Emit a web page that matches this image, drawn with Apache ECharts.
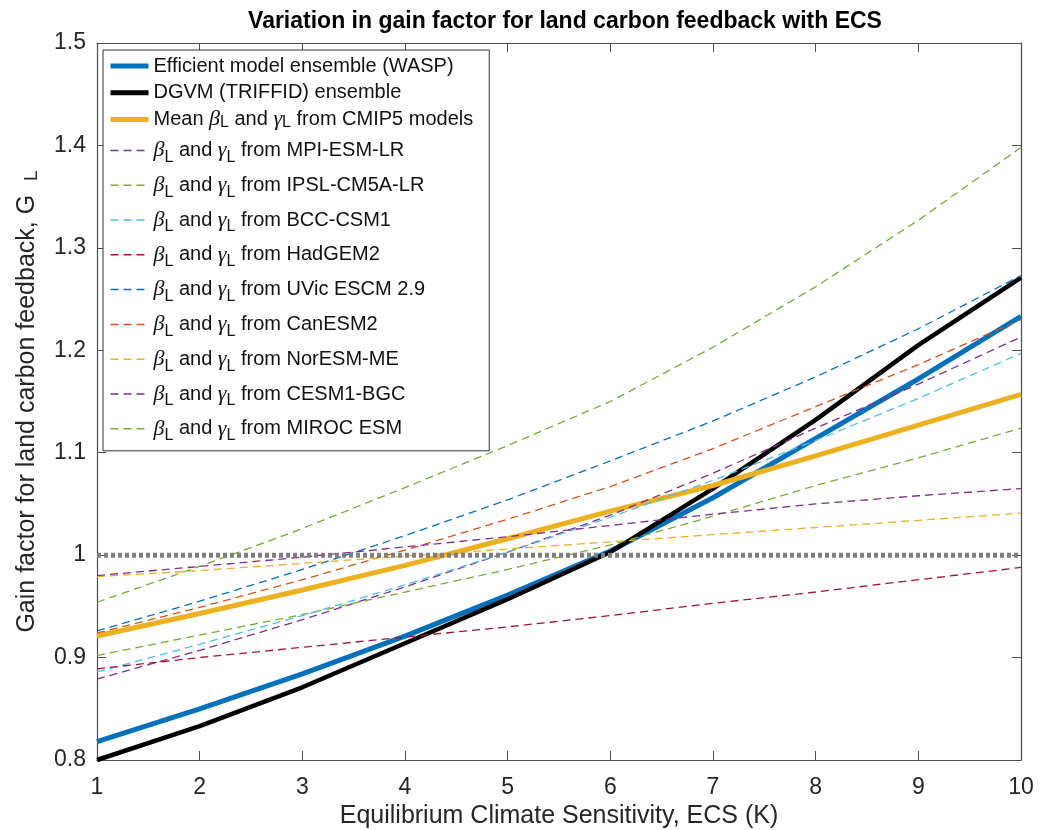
<!DOCTYPE html>
<html>
<head>
<meta charset="utf-8">
<title>Gain factor for land carbon feedback</title>
<script src="https://cdn.jsdelivr.net/npm/echarts@6/dist/echarts.min.js"></script>
<style>
  html, body { margin: 0; padding: 0; background: #fff; }
  #chart { width: 1046px; height: 830px; }
</style>
</head>
<body>
<div id="chart"></div>
<script>
// ECS values (K) along the x axis
const ecs = [1, 2, 3, 4, 5, 6, 7, 8, 9, 10];

// gain factor G_L
const waspEnsemble    = [0.818, 0.850, 0.884, 0.921, 0.961, 1.004, 1.056, 1.114, 1.172, 1.233];
const triffidEnsemble = [0.800, 0.833, 0.871, 0.914, 0.957, 1.003, 1.065, 1.132, 1.205, 1.271];
const cmip5Mean       = [0.921, 0.943, 0.966, 0.990, 1.016, 1.043, 1.068, 1.097, 1.127, 1.157];
const mpiEsmLr        = [0.879, 0.907, 0.937, 0.969, 1.003, 1.039, 1.080, 1.124, 1.167, 1.213];
const ipslCm5aLr      = [0.902, 0.922, 0.942, 0.964, 0.986, 1.010, 1.038, 1.068, 1.095, 1.124];
const bccCsm1         = [0.886, 0.913, 0.941, 0.971, 1.003, 1.037, 1.073, 1.112, 1.153, 1.197];
const hadGem2         = [0.889, 0.900, 0.910, 0.920, 0.930, 0.941, 0.953, 0.964, 0.976, 0.988];
const uvicEscm        = [0.926, 0.955, 0.986, 1.019, 1.054, 1.092, 1.131, 1.174, 1.221, 1.273];
const canEsm2         = [0.924, 0.949, 0.976, 1.005, 1.035, 1.067, 1.104, 1.145, 1.186, 1.230];
const norEsmMe        = [0.979, 0.985, 0.992, 0.999, 1.006, 1.013, 1.020, 1.027, 1.034, 1.041];
const cesm1Bgc        = [0.980, 0.989, 0.998, 1.008, 1.018, 1.029, 1.040, 1.050, 1.058, 1.065];
const mirocEsm        = [0.954, 0.989, 1.026, 1.066, 1.107, 1.150, 1.203, 1.262, 1.327, 1.398];

// reference line G_L = 1
const unityX = [1, 10];
const unityY = [1, 1];

const xTicks = [1, 10, 1];          // min, max, step
const yTicks = [0.8, 1.5, 0.1];

const FONT = '"Liberation Sans", Arial, Helvetica, sans-serif';
const AXIS_COLOR = '#4d4d4d';

const solidNames = ['Efficient model ensemble (WASP)', 'DGVM (TRIFFID) ensemble', 'Mean'];
const solidColors = ['#0072BD', '#000000', '#EDB120'];
const modelNames = ['MPI-ESM-LR', 'IPSL-CM5A-LR', 'BCC-CSM1', 'HadGEM2', 'UVic ESCM 2.9',
  'CanESM2', 'NorESM-ME', 'CESM1-BGC', 'MIROC ESM'];
const modelData = [mpiEsmLr, ipslCm5aLr, bccCsm1, hadGem2, uvicEscm, canEsm2, norEsmMe, cesm1Bgc, mirocEsm];
const modelColors = ['#7E2F8E', '#77AC30', '#4DBEEE', '#A2142F', '#0072BD', '#D95319', '#EDB120', '#7E2F8E', '#77AC30'];

const pairs = (ys, xs) => (xs || ecs).map((x, i) => [x, ys[i]]);

const betaGamma = '{g|β}{s|L} and {g|γ}{s|L}';

let chart = echarts.init(document.getElementById('chart'), null, { renderer: 'canvas' });

let series = [waspEnsemble, triffidEnsemble, cmip5Mean].map((d, i) => ({
  name: solidNames[i], type: 'line', data: pairs(d), symbol: 'none',
  lineStyle: { color: solidColors[i], width: i === 1 ? 4.5 : 5 },
  itemStyle: { color: solidColors[i] }
}));

modelNames.forEach((name, i) => {
  series.push({
    name: name, type: 'line', data: pairs(modelData[i]), symbol: 'none',
    lineStyle: { color: modelColors[i], width: 1.3, type: [8, 5] },
    itemStyle: { color: modelColors[i] }
  });
});

// dotted line at G_L = 1
series.push({
  name: 'unity', type: 'line', data: pairs(unityY, unityX), symbol: 'none',
  lineStyle: { color: '#7f7f7f', width: 5, type: [4, 3] }, silent: true
});

let legendData = solidNames.map(n => ({ name: n, textStyle: { lineHeight: 22 }, lineStyle: { width: 5 } }))
  .concat(modelNames.map(n => ({ name: n, textStyle: { lineHeight: 30 }, lineStyle: { width: 1.5 } })));

let option = {
  animation: false,
  backgroundColor: '#ffffff',
  textStyle: { fontFamily: FONT },
  title: {
    text: 'Variation in gain factor for land carbon feedback with ECS',
    left: 560, top: 5, textAlign: 'center',
    textStyle: { fontFamily: FONT, fontSize: 23, fontWeight: 'bold', color: '#000' }
  },
  grid: { left: 97, right: 25, top: 43, bottom: 70, show: false, containLabel: false, outerBoundsMode: 'none' },
  legend: {
    data: legendData,
    orient: 'vertical',
    left: 103, top: 50,
    padding: [5, 16, 7, 5],
    itemGap: 4.8,
    itemWidth: 38,
    itemHeight: 10,
    backgroundColor: '#ffffff',
    borderColor: '#333333',
    borderWidth: 1,
    selectedMode: false,
    itemStyle: { opacity: 0 },
    textStyle: {
      fontFamily: FONT, fontSize: 20, color: '#111',
      rich: {
        g: { fontFamily: '"Liberation Serif", "DejaVu Serif", serif', fontStyle: 'italic', fontSize: 22, color: '#111' },
        s: { fontFamily: FONT, fontSize: 16, color: '#111', verticalAlign: 'bottom', lineHeight: 16 }
      }
    },
    formatter: function (name) {
      if (name === 'Mean') return 'Mean ' + betaGamma + ' from CMIP5 models';
      if (modelNames.indexOf(name) >= 0) return betaGamma + ' from ' + name;
      return name;
    }
  },
  xAxis: [
    {
      type: 'value', min: xTicks[0], max: xTicks[1], interval: xTicks[2],
      name: 'Equilibrium Climate Sensitivity, ECS (K)',
      nameLocation: 'middle', nameGap: 44,
      nameTextStyle: { fontFamily: FONT, fontSize: 25, color: '#262626' },
      axisLine: { show: true, onZero: false, lineStyle: { color: AXIS_COLOR, width: 1.2 } },
      axisTick: { show: true, inside: true, length: 9, lineStyle: { color: AXIS_COLOR } },
      axisLabel: { margin: 16, fontSize: 23, color: '#262626', fontFamily: FONT },
      splitLine: { show: false }
    },
    {
      type: 'value', position: 'top', min: xTicks[0], max: xTicks[1], interval: xTicks[2],
      axisLine: { show: true, onZero: false, lineStyle: { color: AXIS_COLOR, width: 1.2 } },
      axisTick: { show: true, inside: true, length: 9, lineStyle: { color: AXIS_COLOR } },
      axisLabel: { show: false }, splitLine: { show: false }
    }
  ],
  yAxis: [
    {
      type: 'value', min: yTicks[0], max: yTicks[1], interval: yTicks[2],
      name: 'Gain factor for land carbon feedback, G  {s|L}',
      nameLocation: 'middle', nameGap: 56,
      nameTextStyle: {
        fontFamily: FONT, fontSize: 25, color: '#262626', lineHeight: 28,
        rich: { s: { fontFamily: FONT, fontSize: 19, color: '#262626', verticalAlign: 'bottom', lineHeight: 19 } }
      },
      axisLine: { show: true, onZero: false, lineStyle: { color: AXIS_COLOR, width: 1.2 } },
      axisTick: { show: true, inside: true, length: 9, lineStyle: { color: AXIS_COLOR } },
      axisLabel: {
        margin: 11, fontSize: 23, color: '#262626', fontFamily: FONT,
        formatter: v => String(Math.round(v * 10) / 10)
      },
      splitLine: { show: false }
    },
    {
      type: 'value', position: 'right', min: yTicks[0], max: yTicks[1], interval: yTicks[2],
      axisLine: { show: true, onZero: false, lineStyle: { color: AXIS_COLOR, width: 1.2 } },
      axisTick: { show: true, inside: true, length: 9, lineStyle: { color: AXIS_COLOR } },
      axisLabel: { show: false }, splitLine: { show: false }
    }
  ],
  series: series
};

chart.setOption(option);
</script>
</body>
</html>
